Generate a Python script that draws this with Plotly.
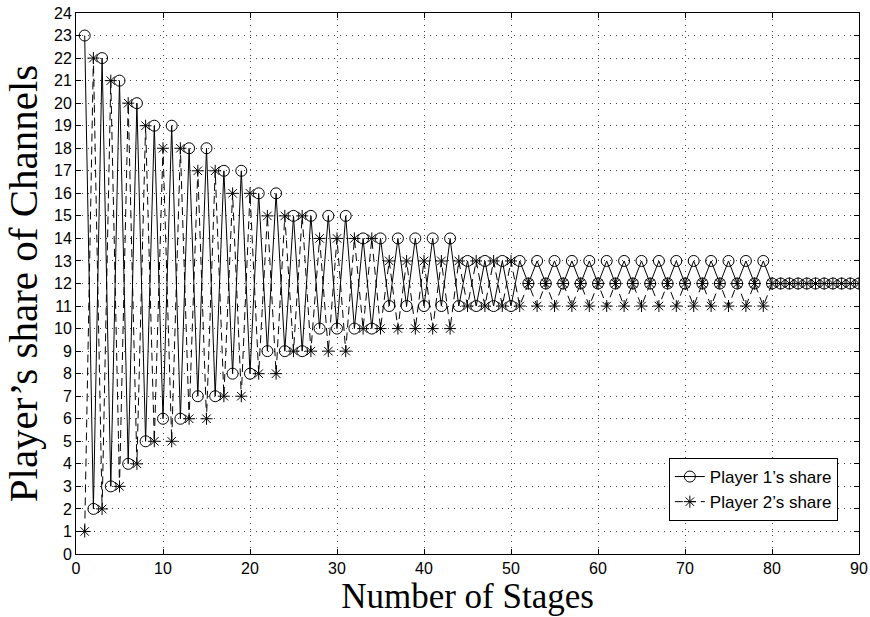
import plotly.graph_objects as go

stages = list(range(1, 91))

player1_share = [
    23, 2, 22, 3, 21, 4, 20, 5, 19, 6,
    19, 6, 18, 7, 18, 7, 17, 8, 17, 8,
    16, 9, 16, 9, 15, 9, 15, 10, 15, 10,
    15, 10, 14, 10, 14, 11, 14, 11, 14, 11,
    14, 11, 14, 11, 13, 11, 13, 11, 13, 11,
    13, 12, 13, 12, 13, 12, 13, 12, 13, 12,
    13, 12, 13, 12, 13, 12, 13, 12, 13, 12,
    13, 12, 13, 12, 13, 12, 13, 12, 13, 12,
    12, 12, 12, 12, 12, 12, 12, 12, 12, 12,
]

player2_share = [
    1, 22, 2, 21, 3, 20, 4, 19, 5, 18,
    5, 18, 6, 17, 6, 17, 7, 16, 7, 16,
    8, 15, 8, 15, 9, 15, 9, 14, 9, 14,
    9, 14, 10, 14, 10, 13, 10, 13, 10, 13,
    10, 13, 10, 13, 11, 13, 11, 13, 11, 13,
    11, 12, 11, 12, 11, 12, 11, 12, 11, 12,
    11, 12, 11, 12, 11, 12, 11, 12, 11, 12,
    11, 12, 11, 12, 11, 12, 11, 12, 11, 12,
    12, 12, 12, 12, 12, 12, 12, 12, 12, 12,
]

x_ticks = list(range(0, 91, 10))
y_ticks = list(range(0, 25, 1))

fig = go.Figure()
fig.add_trace(go.Scatter(
    x=stages, y=player1_share, mode="lines+markers",
    name="Player 1\u2019s share",
    line=dict(color="black", width=1),
    marker=dict(symbol="circle-open", size=11, color="black", line=dict(width=1)),
))
fig.add_trace(go.Scatter(
    x=stages, y=player2_share, mode="lines+markers",
    name="Player 2\u2019s share",
    line=dict(color="black", width=1, dash="8px,5px"),
    marker=dict(symbol="asterisk-open", size=10, color="black", line=dict(width=1, color="black")),
))

axis_common = dict(
    showline=True, linecolor="black", linewidth=1, mirror="ticks",
    ticks="inside", ticklen=5, tickcolor="black", tickwidth=1,
    showgrid=True, gridcolor="#444", gridwidth=1, griddash="1px,5px",
    zeroline=False, automargin=False, ticklabeloverflow="allow",
    tickfont=dict(family="Liberation Sans, Arial", size=16, color="black"),
)

fig.update_xaxes(
    range=[0, 90], tickvals=x_ticks,
    title=dict(text="Number of Stages",
               font=dict(family="Liberation Serif, Times New Roman", size=35, color="black"),
               standoff=6),
    **axis_common,
)
fig.update_yaxes(
    range=[0, 24], tickvals=y_ticks,
    title=dict(text="Player\u2019s share of Channels",
               font=dict(family="Liberation Serif, Times New Roman", size=41, color="black"),
               standoff=4),
    **axis_common,
)

fig.update_layout(
    width=870, height=617,
    margin=dict(l=76, r=11, t=13, b=63),
    paper_bgcolor="white", plot_bgcolor="white",
    showlegend=True,
    legend=dict(
        x=0.973, y=0.061, xanchor="right", yanchor="bottom",
        bgcolor="white", bordercolor="black", borderwidth=1,
        font=dict(family="Liberation Sans, Arial", size=17, color="black"),
        tracegroupgap=0,
    ),
)

fig.write_html(
    "out.html",
    config={"displayModeBar": False},
    post_script="document.body.style.margin='0';document.body.style.overflow='hidden';",
)
